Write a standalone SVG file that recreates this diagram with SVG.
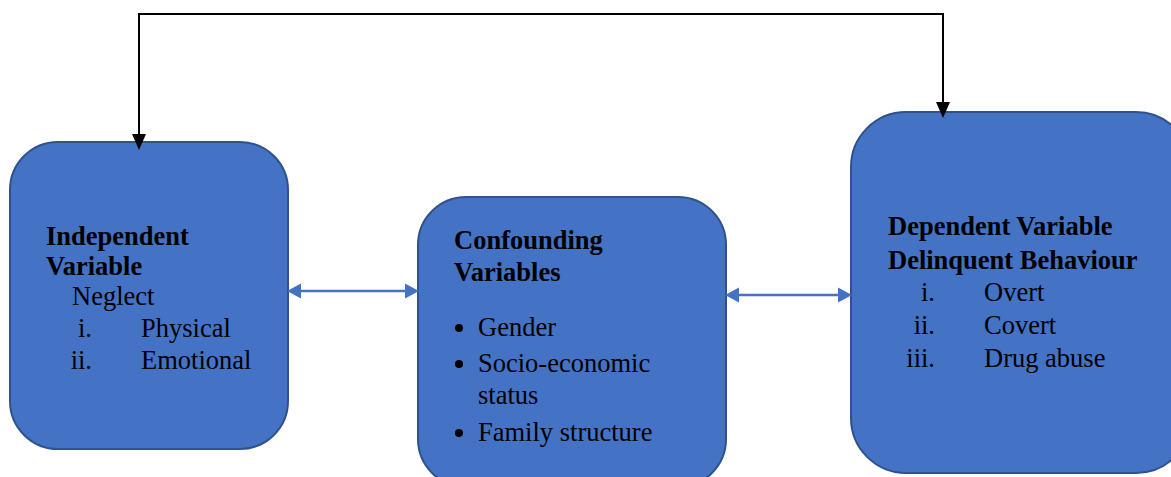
<svg xmlns="http://www.w3.org/2000/svg" width="1171" height="477" viewBox="0 0 1171 477">
<style>
.box{fill:#4472C4;stroke:#2F528F;stroke-width:2}
.t{font-family:"Liberation Serif","Times New Roman",serif;font-size:26.5px;fill:#000}
.b{font-weight:bold}
.blk{stroke:#000;stroke-width:2;fill:none}
.blu{stroke:#4472C4;stroke-width:2.5;fill:none}
.hb{fill:#000}
.hu{fill:#4472C4}
</style>
<g id="independent">
<rect class="box" x="10" y="142" width="278" height="307" rx="48" ry="48"/>
<text class="t b" x="46" y="245">Independent</text>
<text class="t b" x="46" y="275">Variable</text>
<text class="t" x="72" y="305">Neglect</text>
<text class="t" x="92" y="337" text-anchor="end">i.</text>
<text class="t" x="141" y="337">Physical</text>
<text class="t" x="92" y="369" text-anchor="end">ii.</text>
<text class="t" x="141" y="369">Emotional</text>
</g>
<g id="confounding">
<rect class="box" x="418" y="197" width="308" height="290" rx="48" ry="48"/>
<text class="t b" x="454" y="249">Confounding</text>
<text class="t b" x="454" y="281">Variables</text>
<circle cx="459" cy="328" r="4"/>
<text class="t" x="478" y="336">Gender</text>
<circle cx="459" cy="364" r="4"/>
<text class="t" x="478" y="372">Socio-economic</text>
<text class="t" x="478" y="404">status</text>
<circle cx="459" cy="433" r="4"/>
<text class="t" x="478" y="441">Family structure</text>
</g>
<g id="dependent">
<rect class="box" x="851" y="112" width="340" height="361" rx="55" ry="55"/>
<text class="t b" x="888" y="235">Dependent Variable</text>
<text class="t b" x="888" y="269">Delinquent Behaviour</text>
<text class="t" x="935" y="301" text-anchor="end">i.</text>
<text class="t" x="984" y="301">Overt</text>
<text class="t" x="935" y="334" text-anchor="end">ii.</text>
<text class="t" x="984" y="334">Covert</text>
<text class="t" x="935" y="367" text-anchor="end">iii.</text>
<text class="t" x="984" y="367">Drug abuse</text>
</g>
<g id="connectors">
<polyline class="blk" points="139,136 139,14 943,14 943,104"/>
<polygon class="hb" points="132,134 146,134 139,150"/>
<polygon class="hb" points="936,102 950,102 943,118"/>
<line class="blu" x1="298" y1="291" x2="408" y2="291"/>
<polygon class="hu" points="287,291 301,283.5 301,298.5"/>
<polygon class="hu" points="419,291 405,283.5 405,298.5"/>
<line class="blu" x1="736" y1="295" x2="841" y2="295"/>
<polygon class="hu" points="725,295 739,287.5 739,302.5"/>
<polygon class="hu" points="852,295 838,287.5 838,302.5"/>
</g>
</svg>
